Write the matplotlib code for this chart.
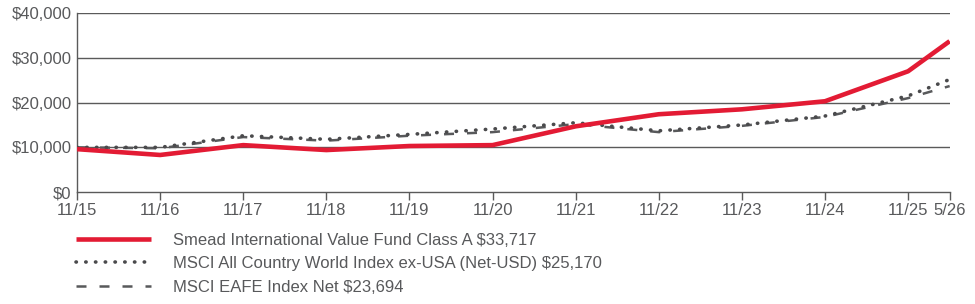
import numpy as np
import matplotlib.pyplot as plt

plt.rcParams['font.family'] = ['Liberation Sans', 'DejaVu Sans']

# growth of $10,000
tick_labels = ['11/15', '11/16', '11/17', '11/18', '11/19', '11/20',
               '11/21', '11/22', '11/23', '11/24', '11/25', '5/26']
x_pos = [0, 1, 2, 3, 4, 5, 6, 7, 8, 9, 10, 10.5]

fund = [9600, 8300, 10500, 9400, 10300, 10500, 14700, 17400, 18500, 20300, 27000, 33717]
acwi = [10000, 10000, 12600, 11800, 12900, 14100, 15500, 13700, 15000, 17000, 21500, 25170]
eafe = [10000, 9800, 12300, 11500, 12600, 13400, 15200, 13400, 14800, 16800, 21000, 23694]

fund_label = 'Smead International Value Fund Class A $33,717'
acwi_label = 'MSCI All Country World Index ex-USA (Net-USD) $25,170'
eafe_label = 'MSCI EAFE Index Net $23,694'

grey = '#58595b'
red = '#e31b34'

fig = plt.figure(figsize=(9.75, 3.04), dpi=100)
ax = fig.add_axes([0.079, 0.368, 0.895, 0.589])

for yv in [10000, 20000, 30000, 40000]:
    ax.axhline(yv, color='#5a5a5a', lw=1.0, zorder=1)

l3, = ax.plot(x_pos, eafe, color=grey, lw=1.8, dashes=(4, 5.2), zorder=2)
l2, = ax.plot(x_pos, acwi, color='#4a4a4c', lw=2.6, linestyle=(0, (0.1, 2.6)),
              dash_capstyle='round', zorder=3)
l1, = ax.plot(x_pos, fund, color=red, lw=3.3, solid_capstyle='butt', zorder=4)

ax.set_xlim(0, 10.5)
ax.set_ylim(0, 40000)
ax.set_xticks(x_pos)
ax.set_xticklabels(tick_labels)
ax.set_yticks([0, 10000, 20000, 30000, 40000])
ax.set_yticklabels(['$0', '$10,000', '$20,000', '$30,000', '$40,000'])

for s in ['top', 'right']:
    ax.spines[s].set_visible(False)
for s in ['left', 'bottom']:
    ax.spines[s].set_color('#5a5a5a')
    ax.spines[s].set_linewidth(1.0)

ax.tick_params(axis='x', direction='out', length=6, width=1, color='#5a5a5a',
               labelsize=12, labelcolor=grey, pad=2)
ax.tick_params(axis='y', length=0, labelsize=12, labelcolor=grey, pad=4)

leg = fig.legend([l1, l2, l3], [fund_label, acwi_label, eafe_label],
                 loc='upper left', bbox_to_anchor=(0.078, 0.235),
                 frameon=False, fontsize=12, handlelength=4.5,
                 handletextpad=1.3, labelspacing=0.52, borderpad=0,
                 borderaxespad=0)
for t in leg.get_texts():
    t.set_color(grey)

fig.savefig('out.png', dpi=100)
